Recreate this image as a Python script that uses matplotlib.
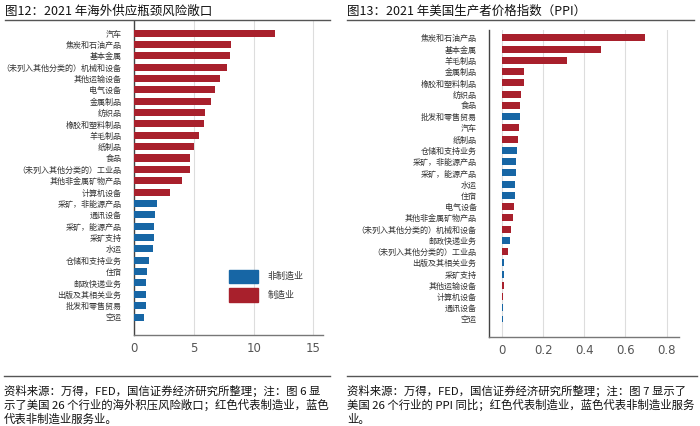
import matplotlib
matplotlib.use("Agg")
import matplotlib.pyplot as plt
from matplotlib.patches import Rectangle
from matplotlib.lines import Line2D

plt.rcParams['font.family'] = ['Noto Sans CJK SC', 'DejaVu Sans']

RED = '#A8202C'
BLUE = '#1766A5'

# ---- Left chart data: 2021 overseas supply bottleneck risk exposure ----
left_categories = ['汽车', '焦炭和石油产品', '基本金属', '（未列入其他分类的）机械和设备', '其他运输设备',
                   '电气设备', '金属制品', '纺织品', '橡胶和塑料制品', '羊毛制品', '纸制品', '食品',
                   '（未列入其他分类的）工业品', '其他非金属矿物产品', '计算机设备', '采矿，非能源产品',
                   '通讯设备', '采矿，能源产品', '采矿支持', '水运', '仓储和支持业务', '住宿',
                   '邮政快递业务', '出版及其相关业务', '批发和零售贸易', '空运']
left_values = [11.8, 8.1, 8.0, 7.8, 7.15, 6.8, 6.4, 5.9, 5.85, 5.45, 5.0, 4.65, 4.65, 4.0, 3.05,
               1.93, 1.73, 1.68, 1.65, 1.6, 1.25, 1.08, 1.03, 1.0, 1.0, 0.87]
left_manufacturing = [1] * 15 + [0] * 11
left_ticks = [0, 5, 10, 15]

# ---- Right chart data: 2021 US PPI ----
right_categories = ['焦炭和石油产品', '基本金属', '羊毛制品', '金属制品', '橡胶和塑料制品', '纺织品', '食品',
                    '批发和零售贸易', '汽车', '纸制品', '仓储和支持业务', '采矿，非能源产品', '采矿，能源产品',
                    '水运', '住宿', '电气设备', '其他非金属矿物产品', '（未列入其他分类的）机械和设备',
                    '邮政快递业务', '（未列入其他分类的）工业品', '出版及其相关业务', '采矿支持',
                    '其他运输设备', '计算机设备', '通讯设备', '空运']
right_values = [0.696, 0.48, 0.314, 0.109, 0.109, 0.094, 0.089, 0.088, 0.085, 0.076, 0.073, 0.07,
                0.068, 0.065, 0.063, 0.057, 0.054, 0.044, 0.037, 0.031, 0.01, 0.008, 0.008, 0.007,
                0.005, 0.003]
right_manufacturing = [1, 1, 1, 1, 1, 1, 1, 0, 1, 1, 0, 0, 0, 0, 0, 1, 1, 1, 0, 1, 0, 0, 1, 1, 0, 0]
right_ticks = [0, 0.2, 0.4, 0.6, 0.8]
right_ticklabels = ['0', '0.2', '0.4', '0.6', '0.8']

legend_labels = ['非制造业', '制造业']

W, H = 700, 426
fig = plt.figure(figsize=(7.0, 4.26), dpi=100)


def px(x0, y0, x1, y1):
    return [x0 / W, 1 - y1 / H, (x1 - x0) / W, (y1 - y0) / H]


def style_axes(ax, cats, vals, manu, xlim, ylim, ticks, ticklabels):
    colors = [RED if m else BLUE for m in manu]
    pos = list(range(len(cats)))
    ax.barh(pos, vals, height=0.62, color=colors, zorder=3)
    ax.set_yticks(pos)
    ax.set_yticklabels(cats, fontsize=5.8, color='#333333')
    ax.set_xlim(*xlim)
    ax.set_ylim(*ylim)
    ax.set_xticks(ticks)
    ax.set_xticklabels(ticklabels, fontsize=8.5, color='#555555', family=['DejaVu Sans'])
    ax.tick_params(axis='y', length=0, pad=9)
    ax.tick_params(axis='x', length=0, pad=5)
    ax.grid(axis='x', color='#dddddd', lw=0.8, zorder=0)
    for s in ['top', 'right']:
        ax.spines[s].set_visible(False)
    ax.spines['left'].set_color('#444444')
    ax.spines['bottom'].set_color('#777777')
    ax.spines['left'].set_linewidth(1.0)
    ax.spines['bottom'].set_linewidth(1.0)


axL = fig.add_axes(px(134, 21, 323, 335))
style_axes(axL, left_categories, left_values, left_manufacturing, (0, 15.8), (26.58, -1.06),
           left_ticks, [str(t) for t in left_ticks])
axR = fig.add_axes(px(489, 30, 679, 337))
style_axes(axR, right_categories, right_values, right_manufacturing, (-0.063, 0.86), (26.6, -0.71),
           right_ticks, right_ticklabels)

# legend (left panel)
handles = [Rectangle((0, 0), 1, 1, color=BLUE), Rectangle((0, 0), 1, 1, color=RED)]
leg = axL.legend(handles, legend_labels, loc='upper left', bbox_to_anchor=((225 - 134) / 189, 1 - (266 - 21) / 314),
                 frameon=False, fontsize=6.5, handlelength=3.3, handleheight=1.9, handletextpad=1.0,
                 labelspacing=0.6, borderaxespad=0)
for t in leg.get_texts():
    t.set_color('#333333')

# titles
fig.text(5 / W, 1 - 11 / H, '图12：2021 年海外供应瓶颈风险敞口', fontsize=9.0, va='center', ha='left', color='#111111')
fig.text(347 / W, 1 - 11 / H, '图13：2021 年美国生产者价格指数（PPI）', fontsize=9.0, va='center', ha='left', color='#111111')

# separator lines
for (x0, x1) in [(5, 330), (347, 694)]:
    fig.add_artist(Line2D([x0 / W, x1 / W], [1 - 20 / H, 1 - 20 / H], color='#555555', lw=1.0))
for (x0, x1) in [(4, 330), (347, 697)]:
    fig.add_artist(Line2D([x0 / W, x1 / W], [1 - 376 / H, 1 - 376 / H], color='#555555', lw=1.0))

left_note = ['资料来源：万得，FED，国信证券经济研究所整理；注：图 6 显',
             '示了美国 26 个行业的海外积压风险敞口；红色代表制造业，蓝色',
             '代表非制造业服务业。']
right_note = ['资料来源：万得，FED，国信证券经济研究所整理；注：图 7 显示了',
              '美国 26 个行业的 PPI 同比；红色代表制造业，蓝色代表非制造业服务',
              '业。']
for i, line in enumerate(left_note):
    fig.text(4 / W, 1 - (391 + 14 * i) / H, line, fontsize=8.2, va='center', ha='left', color='#111111')
for i, line in enumerate(right_note):
    fig.text(347 / W, 1 - (391 + 14 * i) / H, line, fontsize=8.2, va='center', ha='left', color='#111111')

fig.savefig('out.png', dpi=100)
